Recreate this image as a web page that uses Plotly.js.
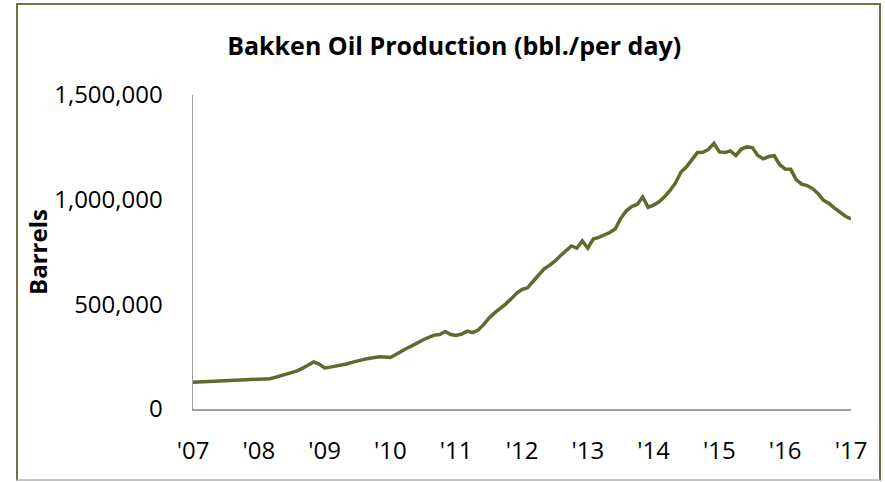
<!DOCTYPE html>
<html>
<head>
<meta charset="utf-8">
<script src="https://cdn.plot.ly/plotly-3.0.1.min.js"></script>
<style>
  html, body { margin: 0; padding: 0; background: #ffffff; }
  #wrap { position: relative; width: 885px; height: 482px; overflow: hidden; }
  #chart { position: absolute; left: 0; top: 0; width: 885px; height: 482px; }
  #frame { position: absolute; left: 16px; top: 3px; width: 861px; height: 474px;
           border-left: 2px solid #6f7343; border-top: 2px solid #6f7343; border-right: 2px solid #6f7343;
           border-bottom: 2px solid #c8c8c0; pointer-events: none; }
</style>
</head>
<body>
<div id="wrap">
  <div id="chart"></div>
  <div id="frame"></div>
</div>
<script>
// Monthly index: 0 = Jan 2007 ... 120 = Jan 2017
const yearTickLabels = ["'07","'08","'09","'10","'11","'12","'13","'14","'15","'16","'17"];
const yearTickMonths = [0, 12, 24, 36, 48, 60, 72, 84, 96, 108, 120];

// Oil production, barrels per day
const production = [
  128000, 129000, 130000, 132000, 133000, 134000, 135000, 136000, 137000, 138000, 139000, 140000,
  141000, 142000, 145000, 151000, 159000, 168000, 175000, 182000, 195000, 210000, 225000, 215000,
  196000, 200000, 204000, 209000, 215000, 223000, 231000, 236000, 241000, 245000, 249000, 248000,
  246000, 260000, 277000, 290000, 303000, 319000, 331000, 342000, 353000, 356000, 370000, 356000,
  351000, 358000, 372000, 365000, 377000, 403000, 435000, 459000, 478000, 501000, 526000, 553000,
  571000, 579000, 609000, 640000, 668000, 686000, 706000, 732000, 758000, 779000, 768000, 803000,
  768000, 812000, 820000, 830000, 843000, 860000, 910000, 946000, 967000, 977000, 1013000, 964000,
  974000, 990000, 1014000, 1044000, 1080000, 1132000, 1157000, 1191000, 1225000, 1226000, 1240000, 1269000,
  1228000, 1225000, 1233000, 1211000, 1242000, 1252000, 1249000, 1211000, 1195000, 1206000, 1210000, 1167000,
  1146000, 1145000, 1096000, 1074000, 1067000, 1053000, 1029000, 997000, 982000, 960000, 940000, 921000,
  908000
];
const months = production.map((_, i) => i);

const yTickVals = [0, 500000, 1000000, 1500000];
const yTickText = ["0", "500,000", "1,000,000", "1,500,000"];

const trace = {
  x: months,
  y: production,
  type: 'scatter',
  mode: 'lines',
  line: { color: '#5f6a2e', width: 3.5 },
  hoverinfo: 'y'
};

const layout = {
  width: 885,
  height: 482,
  margin: { l: 193, r: 34, t: 95, b: 73 },
  paper_bgcolor: '#ffffff',
  plot_bgcolor: '#ffffff',
  showlegend: false,
  font: { family: 'Open Sans, Noto Sans, sans-serif', color: '#000000' },
  title: {
    text: '<b>Bakken Oil Production (bbl./per day)</b>',
    font: { family: 'Open Sans, Noto Sans, sans-serif', size: 25, color: '#000000' },
    x: 0.397, xanchor: 'center', xref: 'paper',
    y: 0.905, yanchor: 'middle', yref: 'container'
  },
  xaxis: {
    range: [0, 120],
    tickvals: yearTickMonths,
    ticktext: yearTickLabels,
    showgrid: false,
    zeroline: false,
    showline: true,
    linecolor: '#a0a0a0',
    linewidth: 1.5,
    ticks: '',
    ticklabelstandoff: 20,
    tickfont: { size: 24, color: '#000000' },
    fixedrange: true
  },
  yaxis: {
    range: [0, 1500000],
    tickvals: yTickVals,
    ticktext: yTickText,
    showgrid: false,
    zeroline: false,
    showline: true,
    linecolor: '#a0a0a0',
    linewidth: 1.5,
    ticks: '',
    ticklabelstandoff: 24,
    tickfont: { size: 24, color: '#000000' },
    title: {
      text: '<b>Barrels</b>',
      font: { size: 24, color: '#000000' },
      standoff: 0
    },
    fixedrange: true
  }
};

Plotly.newPlot('chart', [trace], layout, { displayModeBar: false, staticPlot: true });
</script>
</body>
</html>
